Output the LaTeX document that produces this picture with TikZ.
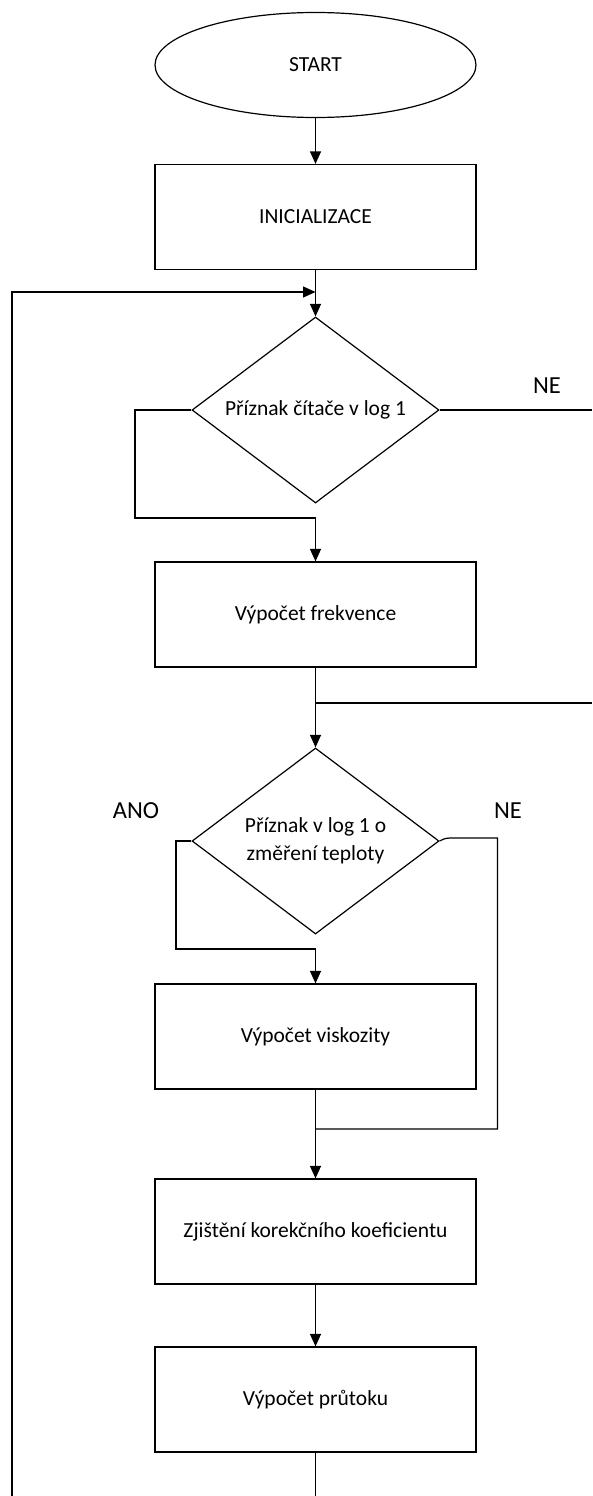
\documentclass[tikz,border=0pt]{standalone}
\usepackage{fontspec}
\setmainfont{Carlito}
\usetikzlibrary{shapes.geometric,arrows.meta}

\begin{document}
\begin{tikzpicture}[x=1pt, y=-1pt, line width=1.2pt,
  blok/.style={draw, rectangle, minimum width=321pt, minimum height=105pt, inner sep=0pt, font=\fontsize{21.5}{28}\selectfont},
  rozh/.style={draw, diamond, aspect=1.33, minimum width=247pt, minimum height=186pt, inner sep=0pt, align=center, font=\fontsize{21.5}{28}\selectfont},
  sipka/.style={-{Triangle[length=12.5pt,width=11pt]}},
  popis/.style={font=\fontsize{24.5}{29}\selectfont}]
\useasboundingbox (0,0) rectangle (592,1496);
\node[draw, ellipse, minimum width=321pt, minimum height=105pt, inner sep=0pt, font=\fontsize{21.5}{28}\selectfont] (start) at (315.5,65){START};
\node[blok] (init) at (315.5,217){INICIALIZACE};
\node[rozh] (d1) at (315.5,410){Příznak čítače v log 1};
\node[blok] (freq) at (315.5,614.5){Výpočet frekvence};
\node[rozh] (d2) at (315.5,841){Příznak v log 1 o\\změření teploty};
\node[blok] (visk) at (315.5,1036.5){Výpočet viskozity};
\node[blok] (korek) at (315.5,1231.5){Zjištění korekčního koeficientu};
\node[blok] (prut) at (315.5,1399.5){Výpočet průtoku};
% popisky vetvi
\node[popis] (ne1) at (547,386){NE};
\node[popis] (ano2) at (136,811){ANO};
\node[popis] (ne2) at (508,811){NE};
% pomocne body
\coordinate (j1) at (315.5,292);
\coordinate (lh) at (12,292);
\coordinate (ld) at (12,1496);
\coordinate (dole) at (315.5,1496);
\coordinate (p1) at (592,410);
\coordinate (j2) at (315.5,703);
\coordinate (p2) at (592,703);
\coordinate (j3) at (315.5,1129);
\draw[sipka](start) -- (init);
\draw[sipka](init) -- (d1);
\draw[sipka](ld) -- (lh) -- (j1);
\draw[](d1.east) -- (p1);
\draw[sipka](d1.west) -- (135,410) -- (135,518) -- (315.5,518) -- (freq);
\draw[](freq) -- (j2) -- (p2);
\draw[sipka](j2) -- (d2);
\draw[sipka](d2.west) -- (176,841) -- (176,949) -- (315.5,949) -- (visk);
\draw[](d2.east) .. controls +(6,-3) .. (455,838) -- (497.5,838) -- (497.5,1129) -- (j3);
\draw[](visk) -- (j3);
\draw[sipka](j3) -- (korek);
\draw[sipka](korek) -- (prut);
\draw[](prut) -- (dole);
\end{tikzpicture}
\end{document}
